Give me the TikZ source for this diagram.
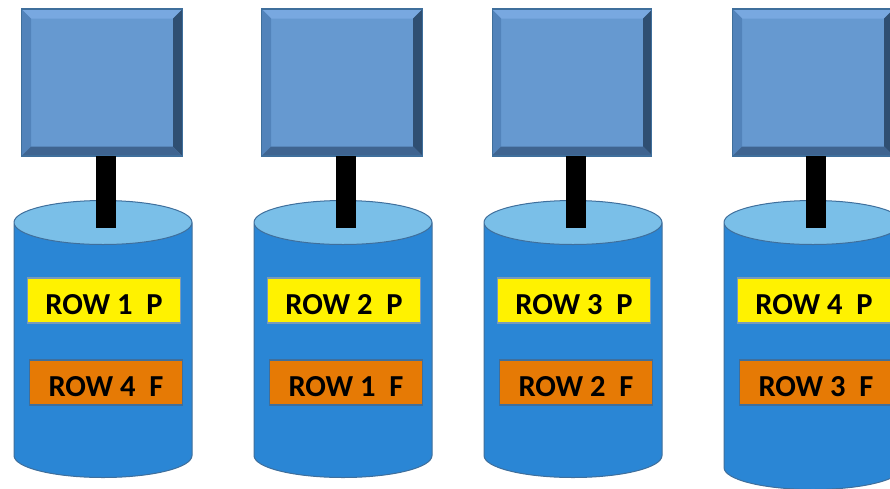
\documentclass[tikz,border=0pt]{standalone}
\usepackage{fontspec}
\setmainfont{Carlito}
\usetikzlibrary{positioning,shapes.geometric}

\definecolor{servface}{HTML}{6699D0}
\definecolor{servtop}{HTML}{78A8E0}
\definecolor{servleft}{HTML}{5283BA}
\definecolor{servright}{HTML}{2F4F72}
\definecolor{servbottom}{HTML}{3F6490}
\definecolor{diskbody}{HTML}{2A86D5}
\definecolor{disktop}{HTML}{7ABFE8}
\definecolor{rimblue}{HTML}{3F6F9C}
\definecolor{rowfail}{HTML}{E67A05}

\begin{document}
\begin{tikzpicture}[x=1pt,y=1pt,font=\fontsize{30.5}{34}\selectfont\bfseries,
                    inner sep=0pt,outer sep=0pt]
  \tikzstyle{server}=[draw=rimblue,line width=1.5pt,fill=servface,
    minimum width=161pt,minimum height=147pt,
    path picture={
      \begin{scope}[shift={(path picture bounding box.center)}]
        \fill[servtop] (-81,74) -- (81,74) -- (71,64) -- (-71,64) -- cycle;
        \fill[servleft] (-81,74) -- (-71,64) -- (-71,-64) -- (-81,-74) -- cycle;
        \fill[servright] (81,74) -- (71,64) -- (71,-64) -- (81,-74) -- cycle;
        \fill[servbottom] (-81,-74) -- (-71,-64) -- (71,-64) -- (81,-74) -- cycle;
      \end{scope}}]
  \tikzstyle{disk}=[cylinder,shape border rotate=90,shape aspect=1,inner sep=22pt,
    draw=rimblue,line width=1pt,cylinder uses custom fill,
    cylinder body fill=diskbody,cylinder end fill=disktop,
    minimum width=178pt,minimum height=277pt]
  \tikzstyle{rowp}=[draw=rimblue!70,line width=1.5pt,fill=yellow,text height=29pt,
    minimum width=153pt,minimum height=45pt]
  \tikzstyle{rowf}=[draw=rimblue,line width=1.5pt,fill=rowfail,text height=29pt,
    minimum width=153pt,minimum height=45pt]
  \tikzstyle{stick}=[black,line width=20pt]

  \clip (0,0) rectangle (890,-488);

  \node[server] (serv1) at (102,-82.5) {};
  \node[server] (serv2) at (342,-82.5) {};
  \node[server,minimum width=159pt] (serv3) at (572,-82.5) {};
  \node[server] (serv4) at (813,-82.5) {};

  \node[disk] (disk1) [below=44.5pt of serv1,xshift=1pt] {};
  \node[disk] (disk2) [below=44.5pt of serv2,xshift=1pt] {};
  \node[disk] (disk3) [below=44.5pt of serv3,xshift=1pt] {};
  \node[disk,minimum height=289pt] (disk4) [below=44.5pt of serv4] {};

  \coordinate (foot1) at ([xshift=3pt,yshift=-27pt]disk1.north);
  \coordinate (foot2) at ([xshift=3pt,yshift=-27pt]disk2.north);
  \coordinate (foot3) at ([xshift=3pt,yshift=-27pt]disk3.north);
  \coordinate (foot4) at ([xshift=3pt,yshift=-27pt]disk4.north);

  \draw[stick] (serv1.south -| foot1) -- (foot1);
  \draw[stick] (serv2.south -| foot2) -- (foot2);
  \draw[stick] (serv3.south -| foot3) -- (foot3);
  \draw[stick] (serv4.south -| foot4) -- (foot4);

  \node[rowp] (rowp1) [below=77.5pt of disk1.north,xshift=1pt] {ROW 1~~P};
  \node[rowp] (rowp2) [below=77.5pt of disk2.north,xshift=1pt] {ROW 2~~P};
  \node[rowp] (rowp3) [below=77.5pt of disk3.north,xshift=1pt] {ROW 3~~P};
  \node[rowp] (rowp4) [below=77.5pt of disk4.north,xshift=1pt] {ROW 4~~P};

  \node[rowf] (rowf1) [below=37pt of rowp1,xshift=2pt] {ROW 4~~F};
  \node[rowf] (rowf2) [below=37pt of rowp2,xshift=2pt] {ROW 1~~F};
  \node[rowf] (rowf3) [below=37pt of rowp3,xshift=2pt] {ROW 2~~F};
  \node[rowf] (rowf4) [below=37pt of rowp4,xshift=2pt] {ROW 3~~F};
\end{tikzpicture}
\end{document}
